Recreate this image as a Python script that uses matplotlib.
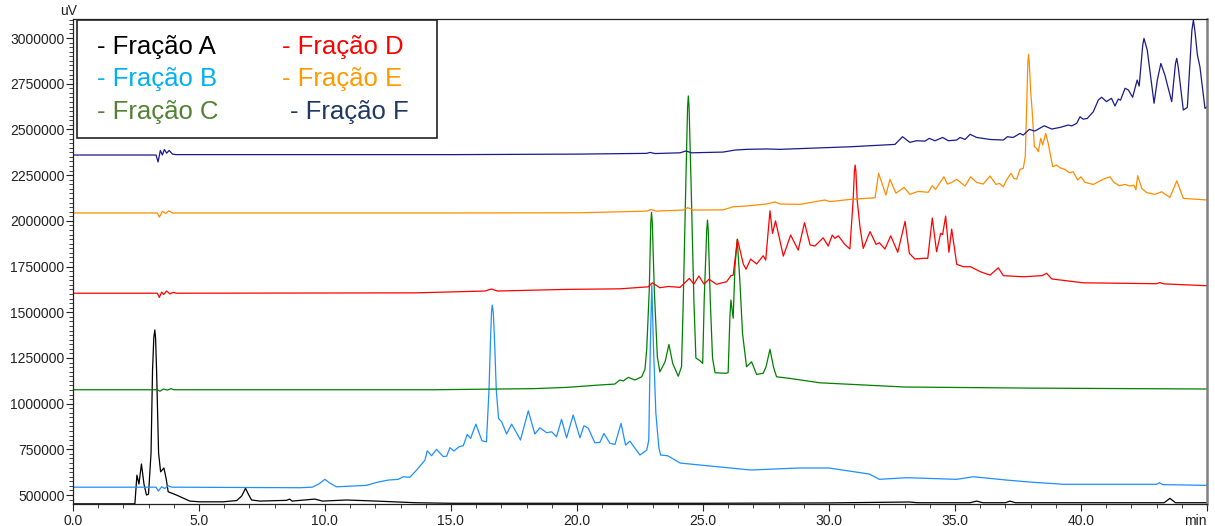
import numpy as np
import matplotlib
matplotlib.use("Agg")
import matplotlib.pyplot as plt
from matplotlib import ticker
from matplotlib.patches import Rectangle

plt.rcParams["font.family"] = ["Liberation Sans", "DejaVu Sans"]

# (retention time [min], signal [uV])
frac_a = [
    (0, 452000), (2.46, 452000), (2.54, 609000), (2.62, 560000), (2.72, 670000),
    (2.82, 560000), (2.92, 500000), (3.0, 505000), (3.10, 728000), (3.16, 1184000),
    (3.21, 1360000), (3.25, 1403000), (3.28, 1360000), (3.32, 1184000), (3.40, 730000),
    (3.48, 627000), (3.61, 648000), (3.70, 590000), (3.78, 518000), (4.11, 500000),
    (4.64, 467000), (5.04, 463000), (5.96, 463000), (6.5, 470000), (6.7, 495000),
    (6.85, 537000), (6.98, 500000), (7.09, 473000), (7.42, 467000), (8.48, 471000),
    (8.6, 478000), (8.7, 467000), (9.6, 478000), (9.9, 467000), (10.86, 473000),
    (12.05, 467000), (13.6, 458000), (15.0, 455000), (20.0, 455000), (25.0, 455000),
    (30.0, 457000), (33.2, 462000), (33.5, 458000), (35.6, 458000), (35.86, 467000),
    (36.1, 458000), (37.0, 458000), (37.18, 467000), (37.4, 458000), (40.0, 458000),
    (43.3, 458000), (43.53, 482000), (43.75, 458000), (45, 458000),
]

frac_b = [
    (0, 543000), (3.3, 543000), (3.39, 522000), (3.52, 545000), (3.65, 536000),
    (3.78, 551000), (3.92, 543000), (4.1, 543000), (9.0, 540000), (9.5, 543000),
    (9.75, 560000), (10.0, 586000), (10.2, 565000), (10.46, 545000), (11.65, 553000),
    (12.05, 569000), (12.51, 582000), (12.91, 586000), (13.11, 600000), (13.37, 597000),
    (13.64, 637000), (13.97, 691000), (14.06, 742000), (14.23, 715000), (14.43, 750000),
    (14.7, 710000), (14.83, 713000), (14.96, 759000), (15.12, 741000), (15.33, 765000),
    (15.49, 770000), (15.65, 832000), (15.78, 810000), (15.99, 888000), (16.23, 797000),
    (16.41, 791000), (16.51, 1074000), (16.57, 1348000), (16.61, 1500000), (16.64, 1539000),
    (16.68, 1500000), (16.73, 1348000), (16.8, 1074000), (16.89, 919000), (17.01, 901000),
    (17.21, 834000), (17.41, 888000), (17.63, 834000), (17.76, 801000), (18.07, 961000),
    (18.33, 834000), (18.53, 868000), (18.8, 841000), (19.0, 846000), (19.19, 819000),
    (19.39, 914000), (19.59, 813000), (19.85, 938000), (20.12, 813000), (20.28, 879000),
    (20.45, 865000), (20.71, 786000), (20.91, 788000), (21.07, 837000), (21.31, 783000),
    (21.51, 777000), (21.75, 892000), (21.93, 773000), (22.1, 795000), (22.5, 719000),
    (22.77, 746000), (22.85, 800000), (22.91, 1300000), (22.97, 1650000), (23.04, 1300000),
    (23.13, 950000), (23.25, 760000), (23.32, 719000), (23.6, 715000), (24.1, 675000),
    (24.9, 664000), (26.9, 637000), (28.8, 648000), (30.0, 648000), (31.6, 615000),
    (32.0, 586000), (33.08, 595000), (35.07, 586000), (35.73, 600000), (37.05, 582000),
    (37.98, 571000), (39.3, 559000), (43.0, 559000), (43.11, 567000), (43.25, 557000),
    (45, 553000),
]

frac_c = [
    (0, 1076000), (3.35, 1076000), (3.45, 1068000), (3.6, 1080000), (3.75, 1074000),
    (3.9, 1082000), (4.0, 1076000), (14.3, 1076000), (18.27, 1082000), (19.6, 1089000),
    (20.9, 1102000), (21.5, 1107000), (21.7, 1129000), (21.84, 1124000), (22.04, 1144000),
    (22.3, 1129000), (22.57, 1147000), (22.7, 1188000), (22.77, 1300000), (22.87, 1621000),
    (22.93, 1990000), (22.96, 2046000), (22.99, 1990000), (23.07, 1621000), (23.19, 1257000),
    (23.29, 1174000), (23.5, 1230000), (23.65, 1324000), (23.8, 1220000), (24.02, 1150000),
    (24.15, 1202000), (24.22, 1567000), (24.32, 2200000), (24.39, 2620000), (24.42, 2683000),
    (24.45, 2620000), (24.53, 2200000), (24.64, 1567000), (24.72, 1250000), (24.88, 1235000),
    (24.99, 1220000), (25.05, 1567000), (25.15, 1950000), (25.18, 2004000), (25.21, 1950000),
    (25.29, 1567000), (25.38, 1250000), (25.48, 1169000), (25.91, 1166000), (26.0, 1170000),
    (26.07, 1476000), (26.11, 1567000), (26.2, 1467000), (26.27, 1749000), (26.36, 1899000),
    (26.47, 1658000), (26.57, 1384000), (26.73, 1202000), (26.93, 1229000), (27.13, 1160000),
    (27.39, 1166000), (27.5, 1200000), (27.66, 1297000), (27.8, 1200000), (27.92, 1147000),
    (28.45, 1138000), (29.64, 1114000), (33.0, 1091000), (38.0, 1085000), (45, 1080000),
]

frac_d = [
    (0, 1604000), (3.35, 1604000), (3.43, 1581000), (3.52, 1610000), (3.6, 1597000),
    (3.72, 1616000), (3.85, 1600000), (3.98, 1609000), (4.1, 1604000), (13.6, 1606000),
    (16.35, 1616000), (16.6, 1627000), (16.85, 1616000), (19.6, 1625000), (21.7, 1628000),
    (22.83, 1639000), (22.99, 1661000), (23.29, 1634000), (23.62, 1641000), (24.09, 1636000),
    (24.46, 1685000), (24.64, 1654000), (24.84, 1698000), (25.04, 1654000), (25.24, 1680000),
    (25.54, 1653000), (25.94, 1667000), (26.11, 1700000), (26.2, 1703000), (26.37, 1899000),
    (26.6, 1764000), (26.71, 1735000), (26.89, 1791000), (27.13, 1764000), (27.39, 1809000),
    (27.49, 1785000), (27.66, 2055000), (27.76, 1931000), (27.88, 2000000), (28.19, 1807000),
    (28.48, 1922000), (28.78, 1840000), (29.03, 1990000), (29.25, 1868000), (29.44, 1862000),
    (29.77, 1907000), (29.97, 1862000), (30.13, 1922000), (30.24, 1904000), (30.37, 1918000),
    (30.63, 1871000), (30.83, 1846000), (30.96, 2114000), (31.01, 2270000), (31.04, 2305000),
    (31.07, 2270000), (31.12, 2114000), (31.23, 1968000), (31.36, 1849000), (31.63, 1941000),
    (31.87, 1871000), (32.0, 1880000), (32.22, 1846000), (32.45, 1918000), (32.73, 1828000),
    (33.02, 1997000), (33.19, 1822000), (33.41, 1791000), (33.74, 1795000), (33.92, 1795000),
    (34.1, 2015000), (34.27, 1831000), (34.43, 1931000), (34.51, 1925000), (34.63, 2026000),
    (34.76, 1828000), (34.87, 1955000), (35.07, 1762000), (35.33, 1749000), (35.62, 1749000),
    (36.0, 1722000), (36.39, 1703000), (36.72, 1743000), (36.92, 1700000), (37.71, 1694000),
    (38.45, 1700000), (38.64, 1713000), (38.84, 1682000), (40.09, 1661000), (43.0, 1656000),
    (43.13, 1662000), (43.3, 1655000), (45, 1645000),
]

frac_e = [
    (0, 2043000), (3.35, 2043000), (3.43, 2020000), (3.55, 2052000), (3.68, 2040000),
    (3.8, 2055000), (3.95, 2043000), (4.1, 2043000), (15.0, 2043000), (20.1, 2044000),
    (22.77, 2053000), (22.94, 2062000), (23.16, 2053000), (24.22, 2059000), (24.39, 2072000),
    (24.62, 2059000), (25.8, 2060000), (26.2, 2077000), (26.73, 2081000), (27.52, 2092000),
    (27.86, 2103000), (28.06, 2092000), (28.85, 2090000), (29.84, 2114000), (30.04, 2105000),
    (30.83, 2117000), (31.83, 2126000), (31.97, 2260000), (32.26, 2141000), (32.42, 2227000),
    (32.66, 2151000), (32.98, 2183000), (33.21, 2145000), (33.54, 2161000), (33.94, 2156000),
    (34.1, 2192000), (34.23, 2172000), (34.56, 2241000), (34.7, 2201000), (34.87, 2210000),
    (35.07, 2227000), (35.4, 2190000), (35.62, 2241000), (35.86, 2210000), (36.12, 2201000),
    (36.39, 2245000), (36.63, 2199000), (36.76, 2205000), (36.92, 2186000), (37.05, 2223000),
    (37.22, 2260000), (37.34, 2232000), (37.45, 2228000), (37.58, 2281000), (37.71, 2287000),
    (37.79, 2351000), (37.85, 2650000), (37.89, 2860000), (37.92, 2910000), (37.95, 2860000),
    (38.0, 2720000), (38.06, 2606000), (38.15, 2405000), (38.24, 2396000), (38.31, 2378000),
    (38.4, 2451000), (38.48, 2415000), (38.6, 2478000), (38.7, 2424000), (38.88, 2296000),
    (39.03, 2305000), (39.17, 2290000), (39.37, 2281000), (39.54, 2263000), (39.69, 2268000),
    (39.87, 2223000), (40.0, 2241000), (40.16, 2210000), (40.49, 2199000), (40.89, 2228000),
    (41.15, 2241000), (41.31, 2210000), (41.52, 2192000), (41.75, 2199000), (41.94, 2190000),
    (42.1, 2195000), (42.18, 2170000), (42.25, 2247000), (42.41, 2178000), (42.61, 2154000),
    (42.94, 2145000), (43.2, 2159000), (43.53, 2128000), (43.8, 2219000), (44.06, 2123000),
    (45, 2114000),
]

frac_f = [
    (0, 2360000), (3.3, 2360000), (3.38, 2322000), (3.47, 2385000), (3.55, 2360000),
    (3.63, 2390000), (3.72, 2370000), (3.82, 2385000), (3.95, 2365000), (4.1, 2362000),
    (15.0, 2362000), (20.1, 2365000), (22.77, 2369000), (22.9, 2374000), (23.1, 2368000),
    (24.09, 2372000), (24.33, 2382000), (24.55, 2372000), (25.8, 2376000), (26.27, 2387000),
    (26.73, 2391000), (27.52, 2393000), (28.06, 2391000), (30.83, 2405000), (32.62, 2418000),
    (32.92, 2460000), (33.21, 2429000), (33.47, 2438000), (33.81, 2436000), (33.98, 2451000),
    (34.21, 2438000), (34.51, 2456000), (34.74, 2438000), (35.07, 2442000), (35.2, 2456000),
    (35.4, 2445000), (35.6, 2473000), (35.86, 2456000), (36.39, 2445000), (36.92, 2442000),
    (37.08, 2460000), (37.31, 2456000), (37.58, 2478000), (37.71, 2469000), (37.95, 2500000),
    (38.17, 2491000), (38.54, 2520000), (38.84, 2502000), (39.17, 2511000), (39.5, 2524000),
    (39.63, 2519000), (39.83, 2533000), (39.96, 2569000), (40.09, 2556000), (40.25, 2560000),
    (40.49, 2597000), (40.69, 2661000), (40.82, 2676000), (41.01, 2652000), (41.21, 2670000),
    (41.35, 2628000), (41.48, 2666000), (41.57, 2660000), (41.75, 2725000), (41.88, 2716000),
    (42.05, 2676000), (42.23, 2770000), (42.31, 2737000), (42.45, 2960000), (42.5, 2998000),
    (42.63, 2934000), (42.9, 2643000), (43.03, 2770000), (43.17, 2861000), (43.33, 2797000),
    (43.6, 2652000), (43.75, 2860000), (43.8, 2889000), (43.86, 2840000), (44.06, 2606000),
    (44.22, 2620000), (44.4, 3040000), (44.46, 3098000), (44.52, 3040000), (44.62, 2907000),
    (44.72, 2843000), (44.92, 2615000), (45, 2624000),
]

labels = ["Fração A", "Fração B", "Fração C", "Fração D", "Fração E", "Fração F"]
line_colors = ["#000000", "#1e8fff", "#008000", "#ff0000", "#ff8c00", "#1a1a8c"]
text_colors = ["#000000", "#00b0f0", "#548235", "#ff0000", "#ff9900", "#1f3864"]
series = [frac_a, frac_b, frac_c, frac_d, frac_e, frac_f]

x_ticks = [0, 5, 10, 15, 20, 25, 30, 35, 40, 45]
x_labels = ["0.0", "5.0", "10.0", "15.0", "20.0", "25.0", "30.0", "35.0", "40.0", "min"]
y_ticks = [500000, 750000, 1000000, 1250000, 1500000, 1750000,
           2000000, 2250000, 2500000, 2750000, 3000000]

fig = plt.figure(figsize=(12.15, 5.26), dpi=100)
ax = fig.add_axes([0.060, 0.0418, 0.9334, 0.9221])

for data, color in zip(series, line_colors):
    t, uv = np.array(data).T
    ax.plot(t, uv, color=color, lw=0.9, solid_joinstyle="round")

ax.set_xlim(0, 45)
ax.set_ylim(451000, 3104000)

ax.set_xticks(x_ticks)
ax.set_xticklabels(x_labels)
ax.get_xticklabels()[-1].set_ha("right")
ax.xaxis.set_minor_locator(ticker.MultipleLocator(1))
ax.set_yticks(y_ticks)
ax.yaxis.set_major_formatter(ticker.FormatStrFormatter("%d"))
ax.yaxis.set_minor_locator(ticker.MultipleLocator(25000))
ax.tick_params(axis="both", which="major", direction="out", length=5, width=0.8,
               labelsize=10, colors="#222222")
ax.tick_params(axis="both", which="minor", direction="out", length=3, width=0.6,
               colors="#222222")
ax.tick_params(axis="x", pad=2)
ax.tick_params(axis="y", pad=1)

for side in ["left", "bottom", "top"]:
    ax.spines[side].set_color("#222222")
    ax.spines[side].set_linewidth(0.9)
ax.spines["right"].set_color("#808080")
ax.spines["right"].set_linewidth(1.8)

ax.text(-0.004, 1.003, "uV", transform=ax.transAxes, fontsize=10,
        ha="center", va="bottom", color="#222222")

# legend box with coloured labels
ax.add_patch(Rectangle((0.0035, 0.755), 0.3175, 0.243, transform=ax.transAxes,
                       facecolor="white", edgecolor="#222222", lw=1.2, zorder=5))
legend_pos = [(0.0212, 0.942), (0.0212, 0.876), (0.0212, 0.808),
              (0.184, 0.942), (0.184, 0.876), (0.191, 0.808)]
for (x, y), label, color in zip(legend_pos, labels, text_colors):
    ax.text(x, y, "- " + label, transform=ax.transAxes, fontsize=18.5,
            color=color, ha="left", va="center", zorder=6)

fig.savefig("out.png", dpi=100)
